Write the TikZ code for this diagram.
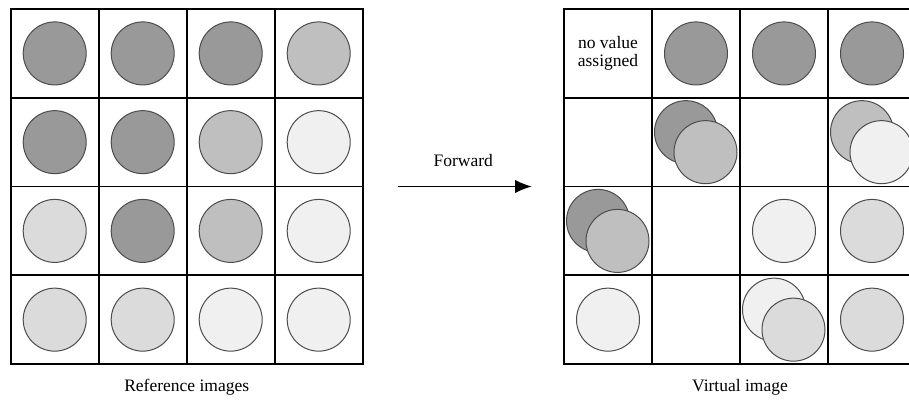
\documentclass[tikz,border=0pt]{standalone}
\usepackage{fontspec}
\setmainfont{Liberation Serif}
\usetikzlibrary{arrows.meta}

\definecolor{dark}{gray}{0.60}
\definecolor{mid}{gray}{0.75}
\definecolor{light}{gray}{0.86}
\definecolor{pale}{gray}{0.94}

\begin{document}
\begin{tikzpicture}[x=0.6pt, y=-0.6pt, font=\fontsize{10.5}{11}\selectfont,
    cell/.style = {draw, line width=1.1pt, minimum width=52.8pt, minimum height=53.2pt, inner sep=0pt},
    disc/.style = {draw=black!70, line width=0.6pt, circle, minimum size=37.8pt, inner sep=0pt},
    back/.style = {disc, xshift=-6pt, yshift=6pt},
    front/.style = {disc, xshift=5.7pt, yshift=-6pt}]
    \useasboundingbox (0,0) rectangle (909,399);
    \clip (0,0) rectangle (909,399);

    % left grid, one disc per cell
    \foreach \r/\row in {0/{dark,dark,dark,mid}, 1/{dark,dark,mid,pale},
                         2/{light,dark,mid,pale}, 3/{light,light,pale,pale}} {
        \foreach \f [count=\c from 0] in \row {
            \node[cell] (L-\r-\c) at (54.7+88*\c, 53.4+88.75*\r) {};
            \node[disc, fill=\f] (Ld-\r-\c) at (L-\r-\c) {};
        }
    }

    % right grid, empty cells first
    \foreach \r in {0,...,3} {
        \foreach \c in {0,...,3} {
            \node[cell] (R-\r-\c) at (608+88*\c, 53.4+88.75*\r) {};
        }
    }

    \node[align=center] (nova) at (R-0-0) {no value\\assigned};
    \node[disc, fill=dark] (Rd-0-1) at (R-0-1) {};
    \node[disc, fill=dark] (Rd-0-2) at (R-0-2) {};
    \node[disc, fill=dark] (Rd-0-3) at (R-0-3) {};

    \node[back, fill=dark] (Rb-1-1) at (R-1-1) {};
    \node[front, fill=mid] (Rf-1-1) at (R-1-1) {};
    \node[back, fill=mid] (Rb-1-3) at (R-1-3) {};
    \node[front, fill=pale] (Rf-1-3) at (R-1-3) {};

    \node[back, fill=dark] (Rb-2-0) at (R-2-0) {};
    \node[front, fill=mid] (Rf-2-0) at (R-2-0) {};
    \node[disc, fill=pale] (Rd-2-2) at (R-2-2) {};
    \node[disc, fill=light] (Rd-2-3) at (R-2-3) {};

    \node[disc, fill=pale] (Rd-3-0) at (R-3-0) {};
    \node[back, fill=pale] (Rb-3-2) at (R-3-2) {};
    \node[front, fill=light] (Rf-3-2) at (R-3-2) {};
    \node[disc, fill=light] (Rd-3-3) at (R-3-3) {};

    % forward arrow between the grids
    \node (fwd) at (463.3,161) {Forward};
    \coordinate (fwd-a) at (398.3,186.5);
    \coordinate (fwd-b) at (531.7,186.5);
    \draw[line width=0.7pt, -{Latex[length=10pt, width=8pt]}] (fwd-a) -- (fwd-b);

    \node (reflabel) at (186.7,387) {Reference images};
    \node (virtlabel) at (740,387) {Virtual image};
\end{tikzpicture}
\end{document}
